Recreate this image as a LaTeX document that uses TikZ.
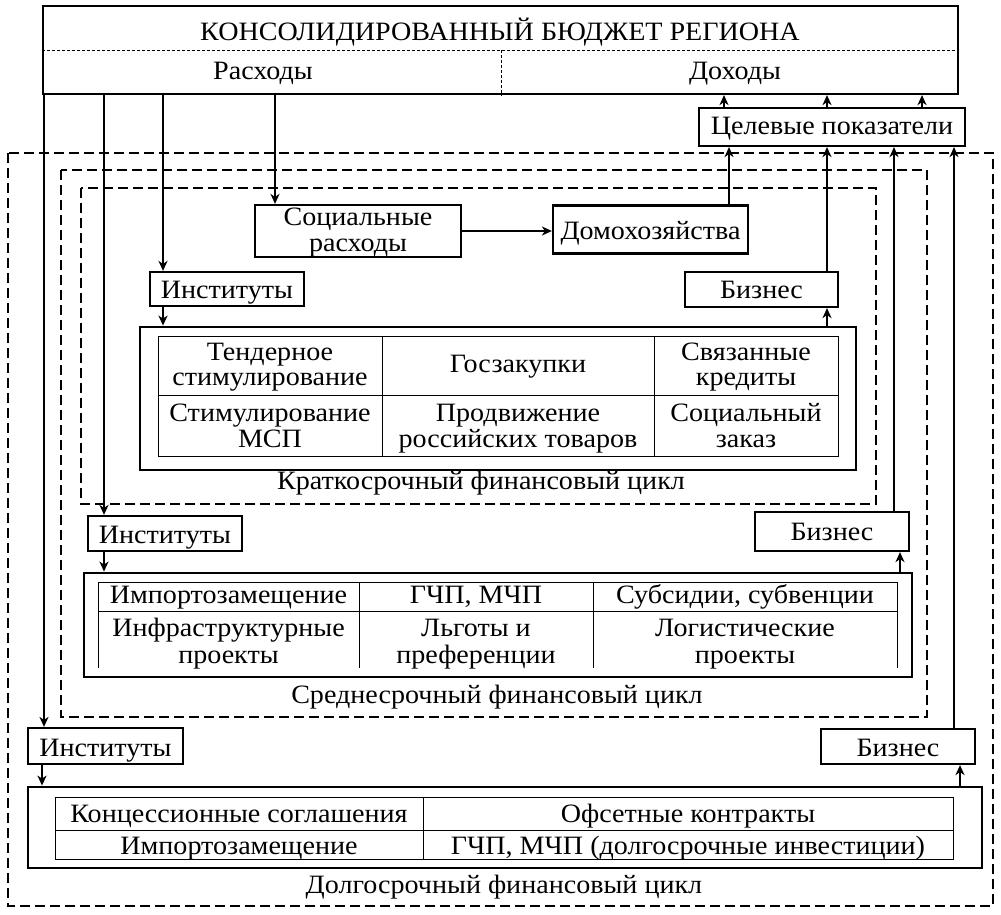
\documentclass[tikz,border=0pt]{standalone}
\usepackage{fontspec}
\setmainfont{Liberation Serif}[FakeStretch=1.06]
\usetikzlibrary{arrows.meta}
\begin{document}
\begin{tikzpicture}[x=1pt,y=-1pt,
  every node/.style={font=\fontsize{26.5}{24}\selectfont, inner sep=0pt, text height=17.5pt, text depth=0pt},
  ml/.style={align=center, text height={}, text depth={}, font=\fontsize{26.5}{#1}\selectfont},
  box/.style={draw, line width=2.2pt},
  tframe/.style={draw, line width=2.8pt},
  dframe/.style={line width=2.2pt, dash pattern=on 10pt off 5pt},
  thindash/.style={line width=0.8pt, dash pattern=on 3pt off 2pt},
  grid/.style={line width=1pt},
  arr/.style={line width=1.7pt, -{Stealth[length=10pt,width=9pt,inset=3pt]}}]
\useasboundingbox (0,0) rectangle (1001,915);

% ---- top box
\node[box, minimum width=915, minimum height=88, text height={}] (top) at (500.5,50) {};
\draw[thindash] (top.west |- 0,50) -- (top.east |- 0,50);
\draw[thindash] (501,50) -- (top.south -| 501,0);
\node (title) at (500,32.25) {КОНСОЛИДИРОВАННЫЙ БЮДЖЕТ РЕГИОНА};
\node (rash) at (263,71.25) {Расходы};
\node (doh) at (735,71.25) {Доходы};

\node[box, minimum width=266, minimum height=38, text height={}] (cel) at (832,127) {};
\node (celt) at (832,126.25) {Целевые показатели};

% ---- dashed cycle frames
\draw[dframe] (8,153) rectangle (993,906);
\draw[dframe] (61,170) rectangle (927,717);
\draw[dframe] (81,188) rectangle (876,504);

% ---- short-term cycle
\node[box, minimum width=206, minimum height=52, text height={}] (soc) at (358,231) {};
\node[ml=25.5] (soct) at (358,232.6) {Социальные\\расходы};
\node[box, minimum width=195, minimum height=48, text height={}] (dom) at (650.5,229.5) {};
\node (domt) at (650.5,230.25) {Домохозяйства};
\node[box, minimum width=154, minimum height=34, text height={}] (inst1) at (227,289) {};
\node (inst1t) at (227,289.25) {Институты};
\node[box, minimum width=153, minimum height=35, text height={}] (biz1) at (761.5,289.5) {};
\node (biz1t) at (761.5,289.25) {Бизнес};
\node[tframe, minimum width=716, minimum height=143, text height={}] (tab1) at (498,398.5) {};
\draw[grid] (158,336) rectangle (838,456);
\draw[grid] (158,395) -- (838,395);
\draw[grid] (382,336) -- (382,456);
\draw[grid] (654,336) -- (654,456);
\node[ml=25.5] (c11) at (270,367.1) {Тендерное\\стимулирование};
\node (c12) at (518,363.5) {Госзакупки};
\node[ml=25.5] (c13) at (746,367.1) {Связанные\\кредиты};
\node[ml=26] (c21) at (270,425.5) {Стимулирование\\МСП};
\node[ml=26] (c22) at (518,428.4) {Продвижение\\российских товаров};
\node[ml=26] (c23) at (746,425.5) {Социальный\\заказ};
\node (lab1) at (481,480.25) {Краткосрочный финансовый цикл};

% ---- mid-term cycle
\node[box, minimum width=154, minimum height=35, text height={}] (inst2) at (165,533.5) {};
\node (inst2t) at (165,534.25) {Институты};
\node[box, minimum width=154, minimum height=39, text height={}] (biz2) at (832,531.5) {};
\node (biz2t) at (832,531.25) {Бизнес};
\node[tframe, minimum width=828, minimum height=104, text height={}] (tab2) at (498,625) {};
\draw[grid] (98,668) -- (98,582) -- (897,582) -- (897,668);
\draw[grid] (98,611) -- (897,611);
\draw[grid] (359,582) -- (359,668);
\draw[grid] (593,582) -- (593,668);
\node (m11) at (228.5,594.25) {Импортозамещение};
\node (m12) at (476,594.25) {ГЧП, МЧП};
\node (m13) at (745,594.25) {Субсидии, субвенции};
\node[ml=27] (m21) at (228.5,643.9) {Инфраструктурные\\проекты};
\node[ml=27] (m22) at (476,643.9) {Льготы и\\преференции};
\node[ml=27] (m23) at (745,643.9) {Логистические\\проекты};
\node (lab2) at (497,694.25) {Среднесрочный финансовый цикл};

% ---- long-term cycle
\node[box, minimum width=155, minimum height=36, text height={}] (inst3) at (105.5,746) {};
\node (inst3t) at (105.5,747.25) {Институты};
\node[box, minimum width=154, minimum height=35, text height={}] (biz3) at (898,746.5) {};
\node (biz3t) at (898,747.25) {Бизнес};
\node[tframe, minimum width=954, minimum height=81, text height={}] (tab3) at (505,827.5) {};
\draw[grid] (55,797) rectangle (953,859);
\draw[grid] (55,830) -- (953,830);
\draw[grid] (423,797) -- (423,859);
\node (l11) at (239,813.25) {Концессионные соглашения};
\node (l12) at (688,813.25) {Офсетные контракты};
\node (l21) at (239,845.25) {Импортозамещение};
\node (l22) at (688,845.25) {ГЧП, МЧП (долгосрочные инвестиции)};
\node (lab3) at (504,884.25) {Долгосрочный финансовый цикл};

% ---- connectors
\draw[arr] (top.south -| 44,0) -- (inst3.north -| 44,0);
\draw[arr] (top.south -| 104,0) -- (inst2.north -| 104,0);
\draw[arr] (top.south -| 163,0) -- (inst1.north -| 163,0);
\draw[arr] (top.south -| 275,0) -- (soc.north -| 275,0);
\draw[arr] (soc.east) -- (dom.west |- soc.east);
\draw[arr] (inst1.south -| 163,0) -- (tab1.north -| 163,0);
\draw[arr] (tab1.north -| 827,0) -- (biz1.south -| 827,0);
\draw[arr] (biz1.north -| 827,0) -- (cel.south -| 827,0);
\draw[arr] (dom.north -| 729,0) -- (cel.south -| 729,0);
\draw[arr] (inst2.south -| 104,0) -- (tab2.north -| 104,0);
\draw[arr] (tab2.north -| 900,0) -- (biz2.south -| 900,0);
\draw[arr] (biz2.north -| 894,0) -- (cel.south -| 894,0);
\draw[arr] (inst3.south -| 42,0) -- (tab3.north -| 42,0);
\draw[arr] (tab3.north -| 960,0) -- (biz3.south -| 960,0);
\draw[arr] (biz3.north -| 954,0) -- (cel.south -| 954,0);
\draw[arr] (cel.north -| 724,0) -- (top.south -| 724,0);
\draw[arr] (cel.north -| 827,0) -- (top.south -| 827,0);
\draw[arr] (cel.north -| 922,0) -- (top.south -| 922,0);
\end{tikzpicture}
\end{document}
